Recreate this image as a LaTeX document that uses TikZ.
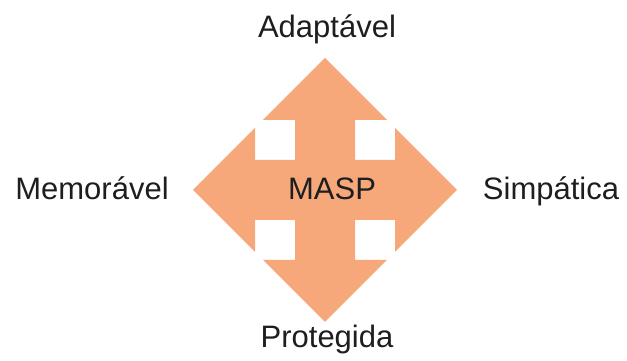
\documentclass[tikz,border=0pt]{standalone}
\usepackage{fontspec}
\setmainfont{Liberation Sans}
\definecolor{arrowfill}{RGB}{246,168,122}
\definecolor{labeltext}{RGB}{30,30,30}

\begin{document}
\begin{tikzpicture}[x=1pt,y=1pt,
    label/.style={anchor=base,inner sep=0pt,text=labeltext,font=\fontsize{31pt}{37pt}\selectfont}]

        \useasboundingbox (0,0) rectangle (627,361);

        % four-way arrow round the centre
        \begin{scope}[shift={(325,171)}]
          \fill[arrowfill] (0,132) -- (62,70) -- (30,70) -- (30,30) -- (70,30) -- (70,62)
            -- (132,0) -- (70,-62) -- (70,-30) -- (30,-30) -- (30,-70) -- (62,-70)
            -- (0,-132) -- (-62,-70) -- (-30,-70) -- (-30,-30) -- (-70,-30) -- (-70,-62)
            -- (-132,0) -- (-70,62) -- (-70,30) -- (-30,30) -- (-30,70) -- (-62,70) -- cycle;
        \end{scope}

        \begin{scope}[every node/.style={label}]
          \node (masp)  at (332,161) {MASP};
          \node (adapt) at (327,323) {Adaptável};
          \node (memo)  at (92,161)  {Memorável};
          \node (simp)  at (551,161) {Simpática};
          \node (prot)  at (327,13)  {Protegida};
        \end{scope}

      \end{tikzpicture}
\end{document}
